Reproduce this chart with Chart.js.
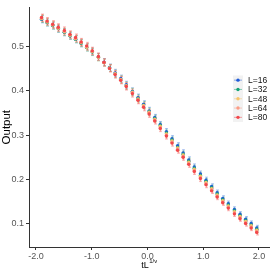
<!DOCTYPE html>
<html lang="en">
<head>
  <meta charset="UTF-8">
  <script src="https://cdn.jsdelivr.net/npm/chart.js"></script>
  <style>
    html, body { margin: 0; padding: 0; background: #fff; }
    #wrap { width: 273px; height: 273px; }
  </style>
</head>
<body>
  <div id="wrap"><canvas id="grafico"></canvas></div>
<script>
// x positions (tL^{1/nu})
const xVals = [-1.90, -1.80, -1.70, -1.60, -1.49, -1.39, -1.29, -1.19, -1.09, -0.99, -0.88, -0.78, -0.68, -0.58, -0.48, -0.38, -0.27, -0.17, -0.07, 0.03,
  0.13, 0.23, 0.34, 0.44, 0.54, 0.64, 0.74, 0.84, 0.95, 1.05, 1.15, 1.25, 1.35, 1.45, 1.56, 1.66, 1.76, 1.86, 1.96];

const labels = ['L=16', 'L=32', 'L=48', 'L=64', 'L=80'];
const colors = ['#1f5bd8', '#14a375', '#f7c46a', '#fb9c86', '#f2474b'];

const outL16 = [0.562, 0.555, 0.548, 0.541, 0.533, 0.525, 0.517, 0.508, 0.499, 0.489, 0.477, 0.465, 0.453, 0.441, 0.428, 0.414, 0.399, 0.385, 0.370, 0.355,
  0.340, 0.324, 0.308, 0.292, 0.276, 0.260, 0.244, 0.228, 0.212, 0.198, 0.184, 0.170, 0.157, 0.145, 0.132, 0.121, 0.110, 0.100, 0.090];
const outL32 = [0.563, 0.555, 0.548, 0.541, 0.533, 0.525, 0.517, 0.508, 0.498, 0.488, 0.476, 0.464, 0.452, 0.439, 0.426, 0.412, 0.398, 0.383, 0.368, 0.353,
  0.338, 0.322, 0.305, 0.289, 0.273, 0.257, 0.241, 0.225, 0.209, 0.195, 0.181, 0.167, 0.154, 0.142, 0.129, 0.118, 0.107, 0.097, 0.087];
const outL48 = [0.564, 0.556, 0.549, 0.542, 0.534, 0.526, 0.518, 0.509, 0.499, 0.489, 0.476, 0.464, 0.452, 0.439, 0.426, 0.412, 0.397, 0.382, 0.367, 0.352,
  0.336, 0.320, 0.303, 0.287, 0.271, 0.255, 0.239, 0.223, 0.207, 0.193, 0.179, 0.165, 0.152, 0.140, 0.127, 0.116, 0.105, 0.095, 0.085];
const outL64 = [0.565, 0.557, 0.550, 0.543, 0.535, 0.527, 0.519, 0.510, 0.500, 0.490, 0.477, 0.464, 0.451, 0.438, 0.425, 0.411, 0.396, 0.380, 0.365, 0.350,
  0.334, 0.317, 0.300, 0.284, 0.268, 0.252, 0.236, 0.220, 0.204, 0.190, 0.176, 0.162, 0.149, 0.137, 0.124, 0.113, 0.102, 0.092, 0.082];
const outL80 = [0.566, 0.558, 0.551, 0.544, 0.537, 0.528, 0.521, 0.511, 0.502, 0.491, 0.478, 0.465, 0.451, 0.437, 0.424, 0.410, 0.394, 0.379, 0.363, 0.348,
  0.332, 0.315, 0.298, 0.282, 0.266, 0.250, 0.234, 0.218, 0.202, 0.188, 0.174, 0.160, 0.147, 0.135, 0.122, 0.111, 0.100, 0.090, 0.080];

// half-width of the error bars
const erros = [0.008, 0.008, 0.008, 0.008, 0.008, 0.008, 0.008, 0.008, 0.008, 0.008, 0.008, 0.008, 0.008, 0.008, 0.008, 0.008, 0.008, 0.008, 0.008, 0.008,
  0.007, 0.007, 0.007, 0.007, 0.007, 0.007, 0.007, 0.007, 0.007, 0.007, 0.006, 0.006, 0.006, 0.006, 0.006, 0.006, 0.006, 0.006, 0.006];

const xTicks = [-2.0, -1.0, 0.0, 1.0, 2.0];
const yTicks = [0.1, 0.2, 0.3, 0.4, 0.5];

const series = [outL16, outL32, outL48, outL64, outL80];

// dataset 0 is drawn on top in Chart.js, so put L=80 first
const datasets = [];
for (let i = series.length - 1; i >= 0; i--) {
  datasets.push({
    label: labels[i],
    data: xVals.map((x, k) => ({ x: x, y: series[i][k], e: erros[k] })),
    backgroundColor: colors[i],
    borderColor: colors[i],
    pointRadius: 1.7,
    pointBorderWidth: 0,
    showLine: false
  });
}

function hexAlpha(hex, a) {
  const n = parseInt(hex.slice(1), 16);
  return `rgba(${(n >> 16) & 255}, ${(n >> 8) & 255}, ${n & 255}, ${a})`;
}

const barrasErro = {
  id: 'barrasErro',
  beforeDatasetsDraw(chart) {
    const ctx = chart.ctx;
    const sx = chart.scales.x, sy = chart.scales.y;
    ctx.save();
    ctx.lineWidth = 1;
    for (let d = chart.data.datasets.length - 1; d >= 0; d--) {
      const ds = chart.data.datasets[d];
      ctx.strokeStyle = hexAlpha(ds.borderColor, 0.35);
      ds.data.forEach(p => {
        const px = Math.round(sx.getPixelForValue(p.x)) + 0.5;
        const y1 = sy.getPixelForValue(p.y - p.e);
        const y2 = sy.getPixelForValue(p.y + p.e);
        ctx.beginPath();
        ctx.moveTo(px, y1); ctx.lineTo(px, y2);
        ctx.moveTo(px - 1.5, y1); ctx.lineTo(px + 1.5, y1);
        ctx.moveTo(px - 1.5, y2); ctx.lineTo(px + 1.5, y2);
        ctx.stroke();
      });
    }
    ctx.restore();
  }
};

const extras = {
  id: 'extras',
  afterDraw(chart) {
    const ctx = chart.ctx;
    const area = chart.chartArea;
    ctx.save();
    // x axis title: tL^{1/ν}
    ctx.fillStyle = '#000';
    ctx.textBaseline = 'alphabetic';
    ctx.textAlign = 'left';
    ctx.font = '9px "Liberation Sans"';
    const w1 = ctx.measureText('tL').width;
    ctx.font = '6px "Liberation Sans"';
    const w2 = ctx.measureText('1/ν').width;
    const x0 = (area.left + area.right) / 2 - (w1 + w2) / 2;
    ctx.font = '9px "Liberation Sans"';
    ctx.fillText('tL', x0, 268);
    ctx.font = '6px "Liberation Sans"';
    ctx.fillText('1/ν', x0 + w1 + 0.5, 263);

    // legend
    const keyX = 233, rowH = 9.3, top0 = 75.5;
    ctx.fillStyle = '#f2f2f2';
    ctx.fillRect(keyX, top0, 10, rowH * labels.length);
    labels.forEach((lab, i) => {
      const cy = top0 + rowH * i + rowH / 2;
      ctx.strokeStyle = hexAlpha(colors[i], 0.5);
      ctx.lineWidth = 1;
      ctx.beginPath();
      ctx.moveTo(keyX + 1, cy); ctx.lineTo(keyX + 9, cy);
      ctx.stroke();
      ctx.fillStyle = colors[i];
      ctx.beginPath();
      ctx.arc(keyX + 5, cy, 1.7, 0, Math.PI * 2);
      ctx.fill();
      ctx.fillStyle = '#111';
      ctx.font = '8.5px "Liberation Sans"';
      ctx.textBaseline = 'middle';
      ctx.fillText(lab, keyX + 15, cy + 0.5);
    });
    ctx.restore();
  }
};

const grafico = new Chart(document.getElementById('grafico').getContext('2d'), {
  type: 'scatter',
  data: { datasets: datasets },
  plugins: [barrasErro, extras],
  options: {
    responsive: true,
    maintainAspectRatio: false,
    animation: false,
    layout: { padding: { top: 3, right: 3, left: 0, bottom: 0 } },
    plugins: { legend: { display: false }, tooltip: { enabled: false } },
    scales: {
      x: {
        type: 'linear',
        min: -2.125,
        max: 2.18,
        afterBuildTicks: (scale) => { scale.ticks = xTicks.map(v => ({ value: v })); },
        afterFit: (scale) => { scale.height = 26; },
        ticks: {
          color: '#555',
          font: { size: 9, family: 'Liberation Sans' },
          padding: 1,
          maxRotation: 0,
          callback: (v) => v.toFixed(1)
        },
        grid: { display: true, drawOnChartArea: false, drawTicks: true, tickLength: 3, color: '#333' },
        border: { display: true, color: '#333', width: 1 }
      },
      y: {
        type: 'linear',
        min: 0.047,
        max: 0.589,
        afterBuildTicks: (scale) => { scale.ticks = yTicks.map(v => ({ value: v })); },
        afterFit: (scale) => { scale.width = 29; },
        ticks: {
          color: '#555',
          font: { size: 9, family: 'Liberation Sans' },
          padding: 2,
          callback: (v) => v.toFixed(1)
        },
        title: {
          display: true,
          text: 'Output',
          color: '#000',
          font: { size: 11.5, family: 'Liberation Sans' },
          padding: 0
        },
        grid: { display: true, drawOnChartArea: false, drawTicks: true, tickLength: 3, color: '#333' },
        border: { display: true, color: '#333', width: 1 }
      }
    }
  }
});
</script>
</body>
</html>
